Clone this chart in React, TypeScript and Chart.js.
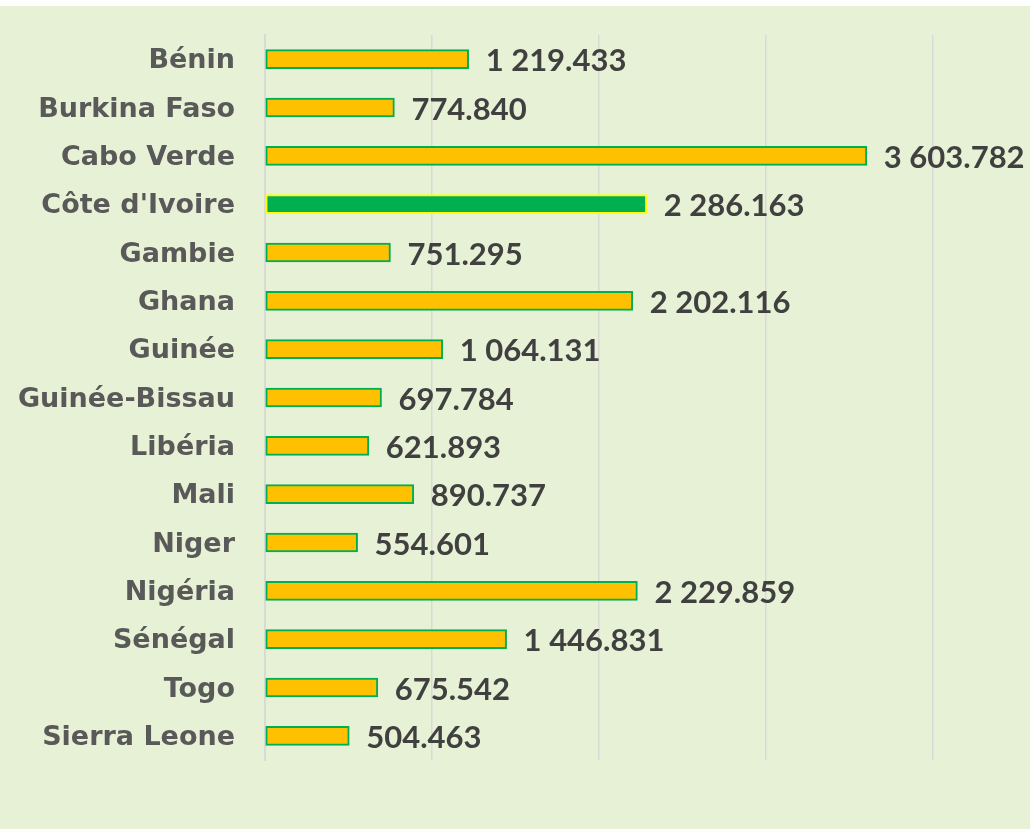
import React, { useEffect, useRef } from "react";
import { Chart, registerables } from "chart.js";

Chart.register(...registerables);

const categories = [
  "Bénin", "Burkina Faso", "Cabo Verde", "Côte d'Ivoire", "Gambie", "Ghana", "Guinée",
  "Guinée-Bissau", "Libéria", "Mali", "Niger", "Nigéria", "Sénégal", "Togo", "Sierra Leone",
];
const values = [
  1219.433, 774.84, 3603.782, 2286.163, 751.295, 2202.116, 1064.131,
  697.784, 621.893, 890.737, 554.601, 2229.859, 1446.831, 675.542, 504.463,
];
const valueLabels = [
  "1 219.433", "774.840", "3 603.782", "2 286.163", "751.295", "2 202.116", "1 064.131",
  "697.784", "621.893", "890.737", "554.601", "2 229.859", "1 446.831", "675.542", "504.463",
];
const highlight = "Côte d'Ivoire";

const BG = "#E7F1D5";
const VFONT = "Lato, 'Open Sans', sans-serif";
const CFONT = "'DejaVu Sans', sans-serif";

export default function App() {
  const ref = useRef<HTMLCanvasElement>(null);
  useEffect(() => {
    const bgPlugin = {
      id: "bg",
      beforeDraw(chart: any) {
        const { ctx, width, height } = chart;
        ctx.save();
        ctx.fillStyle = "#FFFFFF";
        ctx.fillRect(0, 0, width, height);
        ctx.fillStyle = BG;
        ctx.fillRect(0, 6, width, height - 6);
        ctx.restore();
      },
    };
    const labelPlugin = {
      id: "vlabels",
      afterDatasetsDraw(chart: any) {
        const { ctx } = chart;
        const meta = chart.getDatasetMeta(0);
        ctx.save();
        ctx.font = `bold 31px ${VFONT}`;
        ctx.fillStyle = "#404040";
        ctx.textAlign = "left";
        ctx.textBaseline = "middle";
        meta.data.forEach((bar: any, i: number) => {
          ctx.fillText(valueLabels[i], bar.x + 17, bar.y + 2);
        });
        ctx.restore();
      },
    };
    const chart = new Chart(ref.current!, {
      type: "bar",
      data: {
        labels: categories,
        datasets: [
          {
            data: values,
            backgroundColor: categories.map((c) => (c === highlight ? "#00B050" : "#FFC000")),
            borderColor: categories.map((c) => (c === highlight ? "#FFFF00" : "#00B050")),
            borderWidth: 2,
            borderSkipped: false,
            barThickness: 19,
          },
        ],
      },
      options: {
        indexAxis: "y",
        animation: false,
        responsive: false,
        maintainAspectRatio: false,
        layout: { padding: { left: 0, right: 97, top: 35, bottom: 69 } },
        plugins: { legend: { display: false }, tooltip: { enabled: false } },
        scales: {
          x: {
            min: 0,
            max: 4000,
            ticks: { display: false, stepSize: 1000 },
            grid: { color: "#D9D9D9", lineWidth: 1.5, drawTicks: false },
            border: { display: false },
            afterFit(scale: any) {
              scale.height = 0;
              scale.paddingLeft = 0;
              scale.paddingRight = 0;
            },
          },
          y: {
            ticks: {
              color: "#595959",
              font: { family: CFONT, size: 27, weight: "bold" },
              padding: 30,
              labelOffset: 2,
            },
            grid: { display: false, drawTicks: false },
            border: { display: true, color: "#D9D9D9", width: 2 },
            afterFit(scale: any) {
              scale.width = 265;
              scale.paddingTop = 0;
              scale.paddingBottom = 0;
            },
          },
        },
      },
      plugins: [bgPlugin, labelPlugin],
    });
    return () => chart.destroy();
  }, []);
  return (
    <div style={{ position: "absolute", left: 0, top: 0, width: 1030, height: 829 }}>
      <canvas ref={ref} width={1030} height={829} style={{ width: 1030, height: 829 }} />
    </div>
  );
}
